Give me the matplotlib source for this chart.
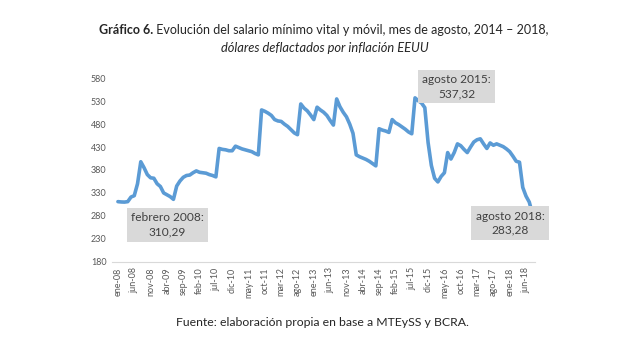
import matplotlib.pyplot as plt

plt.rcParams["font.family"] = ["Lato", "DejaVu Sans"]

# salario mínimo vital y móvil, monthly from ene-08 to ago-18 (USD deflated)
SALARIO = [
    311, 310.29, 310, 311, 321, 324, 350, 398, 385, 370,
    363, 362, 350, 344, 330, 326, 322, 316, 345, 356,
    364, 368, 369, 374, 378, 375, 374, 373, 370, 368,
    365, 427, 425, 424, 422, 422, 432, 429, 426, 424,
    422, 420, 416, 413, 511, 508, 504, 499, 490, 487,
    486, 480, 475, 468, 461, 457, 524, 515, 509, 500,
    490, 517, 511, 506, 499, 488, 478, 535, 518, 506,
    496, 480, 460, 413, 409, 406, 403, 399, 394, 389,
    470, 467, 465, 462, 490, 483, 479, 474, 469, 463,
    459, 537.32, 531, 526, 516, 440, 390, 362, 354, 366,
    374, 418, 404, 418, 437, 433, 425, 418, 430, 441,
    446, 448, 437, 427, 439, 434, 437, 434, 431, 426,
    420, 410, 399, 397, 342, 323, 310, 283.28,
]

TICK_LABELS = [
    "ene-08", "jun-08", "nov-08", "abr-09", "sep-09", "feb-10", "jul-10",
    "dic-10", "may-11", "oct-11", "mar-12", "ago-12", "ene-13", "jun-13",
    "nov-13", "abr-14", "sep-14", "feb-15", "jul-15", "dic-15", "may-16",
    "oct-16", "mar-17", "ago-17", "ene-18", "jun-18",
]
Y_TICKS = [180, 230, 280, 330, 380, 430, 480, 530, 580]

# annotated points: (month index, label, box x, box y)
NOTES = [
    (1, "febrero 2008:\n310,29", 15.2, 260),
    (91, "agosto 2015:\n537,32", 103.7, 562),
    (127, "agosto 2018:\n283,28", 120.1, 264),
]

TEXT_COLOR = "#404040"
TICK_COLOR = "#595959"

fig = plt.figure(figsize=(6.44, 3.40), dpi=100)
ax = fig.add_axes([0.174, 0.2303, 0.657, 0.5394])

ax.plot(range(len(SALARIO)), SALARIO, color="#5b9bd5", linewidth=2.6,
        solid_joinstyle="round", solid_capstyle="round", zorder=2)

ax.set_xlim(-1.8, 127.8)
ax.set_ylim(180, 580)
ax.set_yticks(Y_TICKS)
ax.set_xticks(range(0, len(TICK_LABELS) * 5, 5))
ax.set_xticklabels(TICK_LABELS, rotation=90)
ax.tick_params(axis="both", length=0, labelsize=6.5, labelcolor=TICK_COLOR)
ax.tick_params(axis="y", pad=4)
ax.tick_params(axis="x", pad=4)

for side in ["top", "right", "left"]:
    ax.spines[side].set_visible(False)
ax.spines["bottom"].set_color("#d9d9d9")
ax.spines["bottom"].set_linewidth(0.8)

for _, label, bx, by in NOTES:
    ax.text(bx, by, label, ha="center", va="center", fontsize=8.6,
            color=TEXT_COLOR, linespacing=1.35, zorder=3,
            bbox=dict(boxstyle="square,pad=0.35", facecolor="#d9d9d9",
                      edgecolor="none"))

# title: bold prefix + regular text on the same line
renderer = fig.canvas.get_renderer()
t_bold = fig.text(0, 0.912, "Gráfico 6.", fontsize=9.0, fontweight="bold",
                  color="#262626", va="center")
t_rest = fig.text(0, 0.912,
                  " Evolución del salario mínimo vital y móvil, mes de agosto, 2014 – 2018,",
                  fontsize=9.0, color="#262626", va="center")
w_bold = t_bold.get_window_extent(renderer).width / fig.bbox.width
w_rest = t_rest.get_window_extent(renderer).width / fig.bbox.width
x0 = 0.503 - (w_bold + w_rest) / 2
t_bold.set_x(x0)
t_rest.set_x(x0 + w_bold)
fig.text(0.505, 0.859, "dólares deflactados por inflación EEUU", fontsize=9.3,
         style="italic", color="#262626", ha="center", va="center")

fig.text(0.5, 0.05, "Fuente: elaboración propia en base a MTEySS y BCRA.",
         fontsize=8.8, color="#262626", ha="center", va="center")

fig.savefig("out.png", dpi=100)
